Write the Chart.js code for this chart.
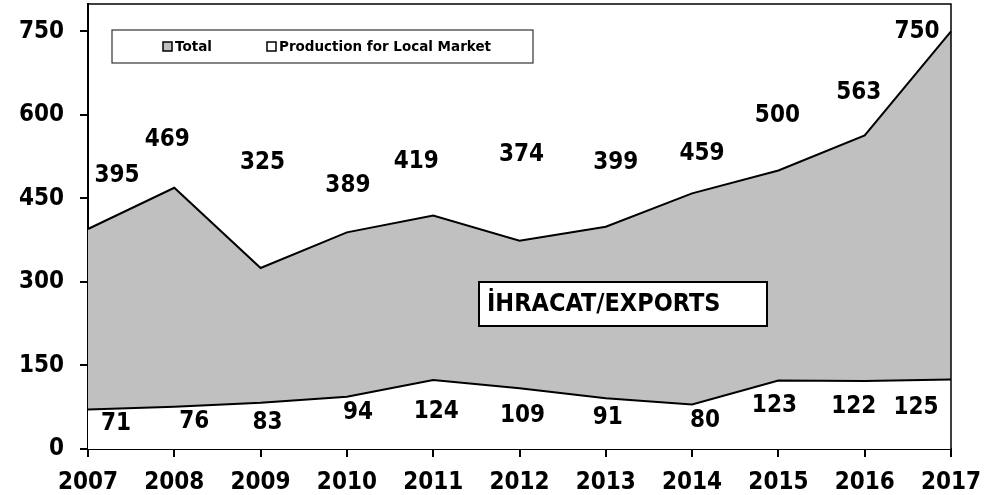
<!DOCTYPE html>
<html>
<head>
<meta charset="utf-8">
<script src="https://cdn.jsdelivr.net/npm/chart.js@4"></script>
<style>
  html, body { margin: 0; padding: 0; background: #fff; }
  #wrap { width: 987px; height: 495px; }
</style>
</head>
<body>
<div id="wrap"><canvas id="chart" width="987" height="495"></canvas></div>
<script>
// --- DATA ---
const years = ['2007', '2008', '2009', '2010', '2011', '2012', '2013', '2014', '2015', '2016', '2017'];
const totalValues = [395, 469, 325, 389, 419, 374, 399, 459, 500, 563, 750];
const localValues = [71, 76, 83, 94, 124, 109, 91, 80, 123, 122, 125];
const yTicks = [0, 150, 300, 450, 600, 750];
const seriesNames = ['Total', 'Production for Local Market'];
const boxText = 'İHRACAT/EXPORTS';

// --- LABEL NUDGES (pixels, like hand-placed labels in the original) ---
const totalNudge = [[29, -53], [-7, -48], [2, -105], [1, -47], [-17, -54], [2, -86], [10, -64], [10, -40], [-1, -55], [-6, -43], [-34, 0]];
const localNudge = [[28, 14], [20, 15], [7, 20], [11, 16], [3, 32], [3, 27], [2, 19], [13, 16], [-4, 25], [-11, 26], [-35, 28]];

const FONT = '"DejaVu Sans", Verdana, sans-serif';
const COND = '"DejaVu Sans Condensed", "DejaVu Sans", sans-serif';
const GREY = '#c0c0c0';

// labels, frame, legend box and the exports box
const decorPlugin = {
    id: 'decor',
    afterDatasetsDraw(chart) {
        const ctx = chart.ctx;
        const area = chart.chartArea;
        ctx.save();

        // frame on top and right
        ctx.strokeStyle = '#000';
        ctx.lineWidth = 1.5;
        ctx.beginPath();
        ctx.moveTo(area.left, area.top);
        ctx.lineTo(area.right, area.top);
        ctx.lineTo(area.right, area.bottom);
        ctx.stroke();

        // value labels
        ctx.fillStyle = '#000';
        ctx.font = 'bold 24px ' + COND;
        ctx.textAlign = 'center';
        ctx.textBaseline = 'middle';
        const nudges = [totalNudge, localNudge];
        chart.data.datasets.forEach((ds, di) => {
            const meta = chart.getDatasetMeta(di);
            meta.data.forEach((pt, i) => {
                const [dx, dy] = nudges[di][i];
                ctx.fillText(String(ds.data[i]), pt.x + dx, pt.y + dy);
            });
        });

        // legend box
        const lx = area.left + 24, ly = area.top + 26;
        ctx.fillStyle = '#fff';
        ctx.fillRect(lx, ly, 421, 33);
        ctx.strokeStyle = '#333';
        ctx.lineWidth = 1.2;
        ctx.strokeRect(lx, ly, 421, 33);
        ctx.font = 'bold 13.5px ' + FONT;
        ctx.textAlign = 'left';
        const items = [
            { x: lx + 51, fill: GREY, text: seriesNames[0] },
            { x: lx + 155, fill: '#fff', text: seriesNames[1] }
        ];
        items.forEach(it => {
            ctx.fillStyle = it.fill;
            ctx.fillRect(it.x, ly + 12, 9, 9);
            ctx.strokeStyle = '#000';
            ctx.lineWidth = 1.5;
            ctx.strokeRect(it.x, ly + 12, 9, 9);
            ctx.fillStyle = '#000';
            ctx.fillText(it.text, it.x + 12, ly + 17);
        });

        // exports box
        const bx = 479, by = 282;
        ctx.fillStyle = '#fff';
        ctx.fillRect(bx, by, 288, 44);
        ctx.strokeStyle = '#000';
        ctx.lineWidth = 2;
        ctx.strokeRect(bx, by, 288, 44);
        ctx.fillStyle = '#000';
        ctx.font = 'bold 25px ' + COND;
        ctx.fillText(boxText, bx + 8, by + 22);

        ctx.restore();
    }
};

function noPad(scale) {
    scale.paddingTop = 0;
    scale.paddingBottom = 0;
    scale.paddingLeft = 0;
    scale.paddingRight = 0;
}

new Chart(document.getElementById('chart'), {
    type: 'line',
    data: {
        labels: years,
        datasets: [
            {
                label: seriesNames[0],
                data: totalValues,
                borderColor: '#000',
                borderWidth: 2,
                backgroundColor: GREY,
                fill: 'origin',
                pointRadius: 0,
                tension: 0,
                order: 2
            },
            {
                label: seriesNames[1],
                data: localValues,
                borderColor: '#000',
                borderWidth: 2,
                backgroundColor: '#fff',
                fill: 'origin',
                pointRadius: 0,
                tension: 0,
                order: 1
            }
        ]
    },
    options: {
        responsive: false,
        animation: false,
        layout: { padding: { top: 4, right: 36, bottom: 0, left: 0 } },
        plugins: {
            legend: { display: false },
            tooltip: { enabled: false }
        },
        scales: {
            x: {
                offset: false,
                border: { color: '#000', width: 2 },
                grid: { display: true, drawOnChartArea: false, drawTicks: true, tickLength: 8, color: '#000', lineWidth: 2 },
                ticks: { color: '#000', font: { family: COND, size: 24, weight: 'bold' }, padding: 11, maxRotation: 0, autoSkip: false },
                afterFit(scale) { scale.height = 46; noPad(scale); }
            },
            y: {
                min: 0,
                max: 799,
                border: { color: '#000', width: 2 },
                grid: { display: true, drawOnChartArea: false, drawTicks: true, tickLength: 8, color: '#000', lineWidth: 2 },
                ticks: { color: '#000', font: { family: COND, size: 24, weight: 'bold' }, padding: 16 },
                afterBuildTicks(scale) { scale.ticks = yTicks.map(v => ({ value: v })); },
                afterFit(scale) { scale.width = 88; noPad(scale); }
            }
        }
    },
    plugins: [decorPlugin]
});
</script>
</body>
</html>
